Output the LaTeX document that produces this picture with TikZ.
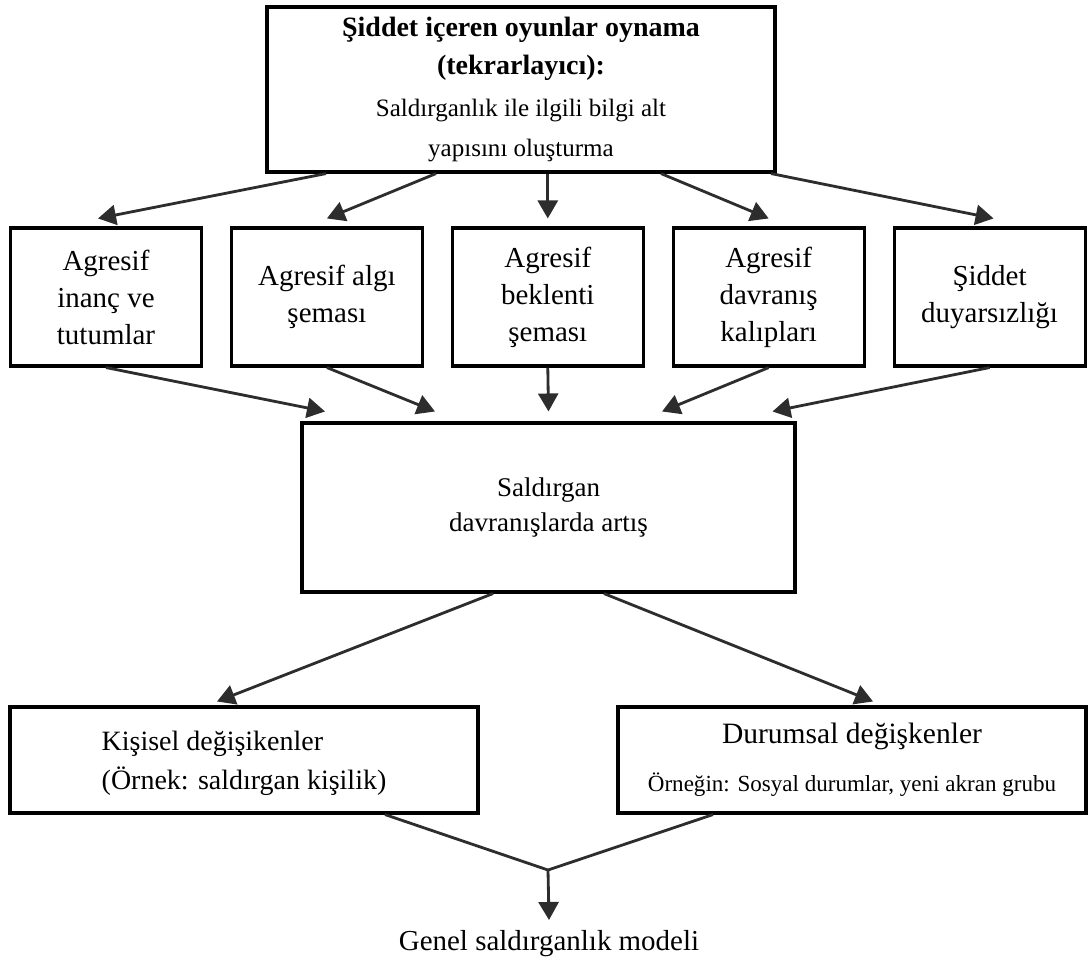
\documentclass[tikz,border=0pt]{standalone}
\usepackage{fontspec}
\setmainfont{Liberation Serif}
\usepackage{tikz}
\usetikzlibrary{arrows.meta,positioning}
\definecolor{gslinegray}{RGB}{45,45,45}
\tikzstyle{arrow} = [line width=2pt, -{Triangle[length=0.45cm,width=0.5cm]}, color=gslinegray]
\tikzstyle{connector} = [line width=2pt, color=gslinegray]
\tikzstyle{frame} = [rectangle, draw=black, line width=2.2pt]
\tikzstyle{factor} = [frame, minimum width=4.775cm, minimum height=3.45cm, align=center, font=\fontsize{20.6}{26.3}\selectfont]

\begin{document}
\begin{tikzpicture}
\useasboundingbox (0,0) rectangle (27.2,-23.975);
% Oyun oynama (ust kutu)
\node[frame, minimum width=12.7cm, minimum height=4.125cm, align=center, font=\fontsize{17.8}{28.45}\selectfont] (play) at (13.025,-2.2375) {
\textbf{\fontsize{19.9}{24.9}\selectfont Şiddet içeren oyunlar oynama}\\[-1.5pt]
\textbf{\fontsize{19.9}{24.9}\selectfont (tekrarlayıcı):}\\[1pt]
Saldırganlık ile ilgili bilgi alt\\
yapısını oluşturma
};

% Bilgi yapilari
\node[factor] (belief) at (2.65,-7.425) {Agresif\\inanç ve\\tutumlar};
\node[factor, right=0.67cm of belief] (percept) {Agresif algı\\şeması};
\node[factor, right=0.67cm of percept] (expect) {Agresif\\beklenti\\şeması};
\node[factor, right=0.67cm of expect] (script) {Agresif\\davranış\\kalıpları};
\node[factor, right=0.67cm of script] (desens) {Şiddet\\duyarsızlığı};

% Sonuc
\node[frame, minimum width=12.325cm, minimum height=4.225cm, align=center, font=\fontsize{19.2}{24.9}\selectfont] (rise) at (13.7125,-12.6875) {Saldırgan\\davranışlarda artış};

% Degiskenler
\node[frame, minimum width=11.7cm, minimum height=2.65cm, align=left, text depth=0pt, font=\fontsize{19.9}{27.5}\selectfont] (person) at (6.1,-19.0) {Kişisel değişikenler\\(Örnek: saldırgan kişilik)};
\node[frame, minimum width=11.7cm, minimum height=2.65cm, align=center, font=\fontsize{21}{34}\selectfont] (situation) at (21.3,-19.0) {Durumsal değişkenler\\{\fontsize{16.4}{20}\selectfont Örneğin: Sosyal durumlar, yeni akran grubu}};

\coordinate (join) at (13.7,-21.75);
\node[inner sep=0pt, anchor=north, font=\fontsize{20.6}{25}\selectfont] (model) at (13.725,-23.25) {Genel saldırganlık modeli};

% Oklar
\draw[arrow] ([xshift=-4.875cm]play.south) -- ([xshift=-0.2cm,yshift=0.2cm]belief.north);
\draw[arrow] ([xshift=-2.125cm]play.south) -- ([yshift=0.2cm]percept.north);
\draw[arrow] (play.south -| expect.north) -- ([yshift=0.2cm]expect.north);
\draw[arrow] ([xshift=3.5cm]play.south) -- ([yshift=0.2cm]script.north);
\draw[arrow] ([xshift=6.25cm]play.south) -- ([xshift=0.1cm,yshift=0.2cm]desens.north);

\draw[arrow] (belief.south) -- ([xshift=-5.5875cm,yshift=0.25cm]rise.north);
\draw[arrow] (percept.south) -- ([xshift=-2.8375cm,yshift=0.25cm]rise.north);
\draw[arrow] (expect.south) -- ([yshift=0.25cm]rise.north);
\draw[arrow] (script.south) -- ([xshift=2.8375cm,yshift=0.25cm]rise.north);
\draw[arrow] (desens.south) -- ([xshift=5.6cm,yshift=0.25cm]rise.north);

\draw[arrow] ([xshift=-1.3875cm]rise.south) -- ([xshift=-0.675cm,yshift=0.1cm]person.north);
\draw[arrow] ([xshift=1.3875cm]rise.south) -- ([xshift=0.525cm,yshift=0.1cm]situation.north);

\draw[connector] ([xshift=3.525cm]person.south) -- (join) -- ([xshift=-3.475cm]situation.south);
\draw[arrow] (join) -- ([yshift=0.25cm]model.north);
\end{tikzpicture}
\end{document}
